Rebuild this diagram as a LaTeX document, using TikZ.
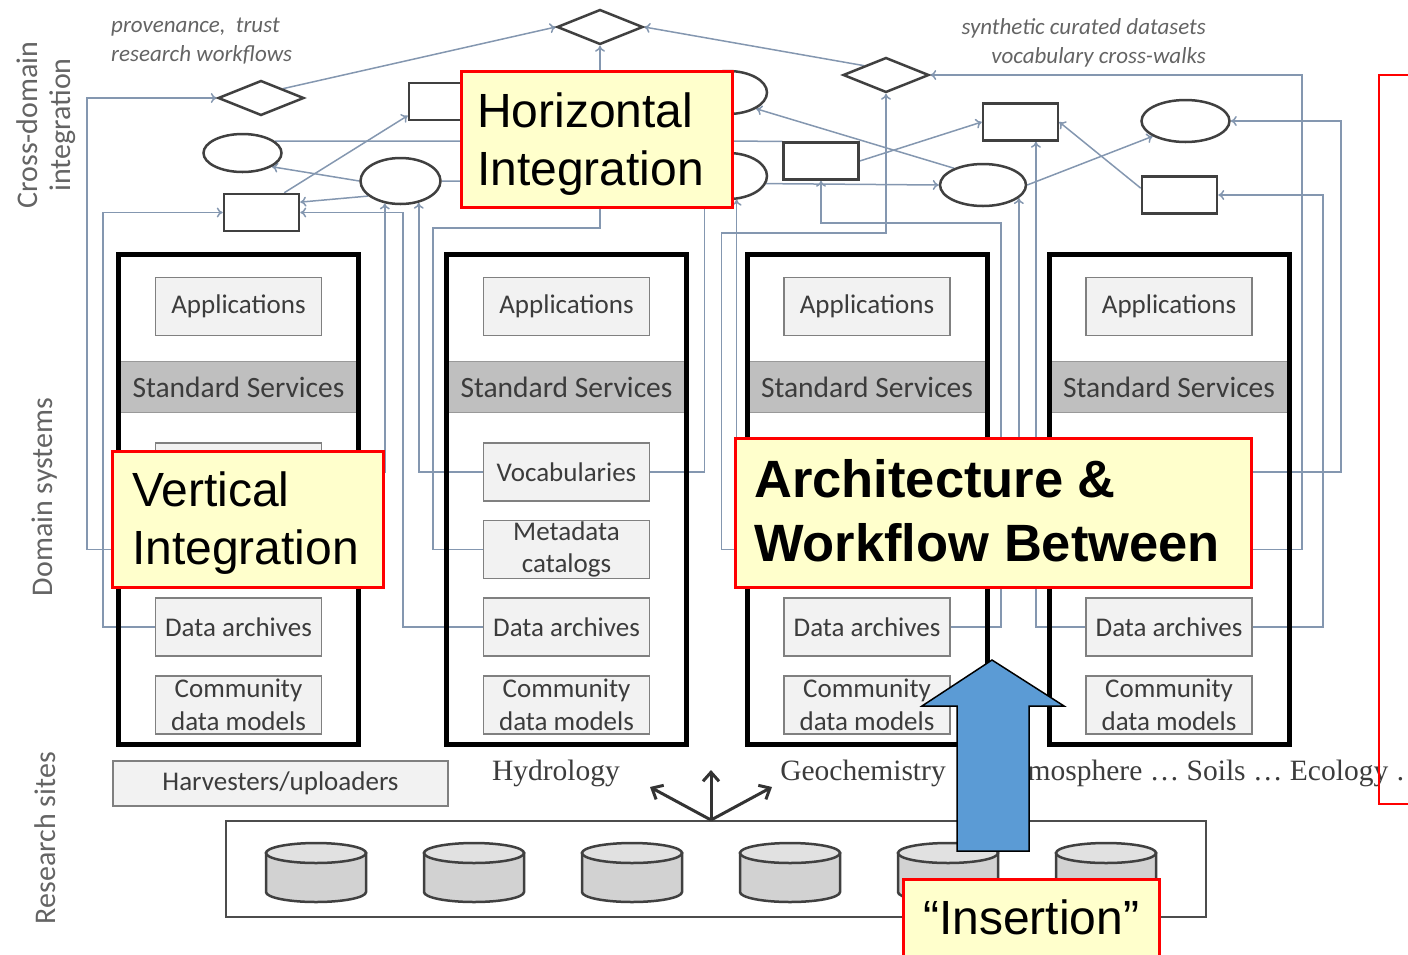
\documentclass[tikz,border=0pt]{standalone}
\usepackage{fontspec}
\setmainfont{Carlito}
\newfontfamily\arialfont{Liberation Sans}
\newfontfamily\timesfont{Liberation Serif}
\usepackage{xcolor}
\definecolor{ln}{RGB}{132,151,176}
\definecolor{outl}{RGB}{64,64,64}
\definecolor{txt}{RGB}{60,60,60}
\definecolor{lab}{RGB}{100,100,100}
\definecolor{boxg}{RGB}{242,242,242}
\definecolor{bandg}{RGB}{191,191,191}
\definecolor{cylg}{RGB}{210,210,210}
\definecolor{cylt}{RGB}{225,225,225}
\definecolor{notey}{RGB}{255,255,204}
\definecolor{blu}{RGB}{91,155,213}
\usetikzlibrary{shapes.geometric, arrows.meta, backgrounds}

\begin{document}
\begin{tikzpicture}[x=1pt, y=-1pt,
flow/.style={draw=ln, line width=1.5pt, -{To[length=6pt, width=10pt]}},
wire/.style={draw=ln, line width=1.5pt},
dom/.style={draw=black, line width=5pt, minimum width=240pt, minimum height=490pt},
band/.style={draw=gray!80, fill=bandg, line width=1pt, minimum width=240pt, minimum height=51pt, text=txt, font=\fontsize{29.5}{33}\selectfont},
part/.style={draw=gray, fill=boxg, line width=1.5pt, minimum width=166pt, minimum height=58pt, inner sep=0pt, align=center, text=txt, font=\fontsize{27}{32.5}\selectfont},
dia/.style={diamond, draw=outl, fill=white, line width=2.5pt, minimum width=86pt, minimum height=35pt, inner sep=0pt},
ell/.style={ellipse, draw=outl, fill=white, line width=2.5pt, inner sep=0pt},
rct/.style={draw=outl, fill=white, line width=2.5pt, minimum width=75pt, minimum height=37pt, inner sep=0pt},
side/.style={text=lab, rotate=90, align=center, font=\fontsize{30}{33}\selectfont},
ital/.style={text=lab, inner sep=0pt, font=\itshape\fontsize{23}{29}\selectfont},
serif/.style={text=txt, inner sep=0pt, font=\timesfont\fontsize{29.5}{34}\selectfont},
note/.style={draw=red, fill=notey, line width=2.5pt, anchor=north west, inner sep=0pt},
notetext/.style={anchor=north west, inner sep=0pt, align=left, font=\arialfont\fontsize{48}{58}\selectfont},
can/.style={draw=outl, fill=cylg, line width=2.5pt},
spray/.style={draw=gray!40!black, line width=3pt, -{Straight Barb[length=9pt, width=16pt]}}
]
\useasboundingbox (0,0) rectangle (1408,954);
\foreach \n/\cx in {1/238.5, 2/566.5, 3/867, 4/1169}{
\node[band] (std\n) at (\cx,387) {Standard Services};
\node[dom] (dom\n) at (\cx,499.5) {};
\node[part] (app\n) at (\cx,306.5) {Applications};
\node[part] (voc\n) at (\cx,472) {Vocabularies};
\node[part] (meta\n) at (\cx,549.5) {Metadata\\catalogs};
\node[part] (arch\n) at (\cx,627) {Data archives};
\node[part] (comm\n) at (\cx,705) {Community\\data models};
}
\foreach \nm/\px/\py in {dmT/600/27, dmL/261/98, dmR/886/75}
\node[dia] (\nm) at (\px,\py) {};
\foreach \nm/\px/\py in {rcL/261.5/212.5, rcM/446.5/101.5, rcC/821/161, rcR/1020.5/122, rcE/1179.5/195}
\node[rct] (\nm) at (\px,\py) {};
\foreach \nm/\px/\py/\w/\h in {elL/242.5/153/78/38, elC/400.5/181/80/46, elU/728/92.5/78/43, elD/728/176/78/46, elM/983/185/86/42, elR/1185.5/121/88/42}
\node[ell, minimum width=\w, minimum height=\h] (\nm) at (\px,\py) {};

\begin{scope}[on background layer]
\draw[flow] (meta1.west) -- ++(-68,0) |- (dmL.west);
\draw[flow] (arch1.west) -- ++(-52,0) |- (rcL.west);
\draw[flow] (voc1.east) -| (elC.235);
\draw[flow] (arch2.west) -- ++(-80,0) |- (rcL.east);
\draw[flow] (voc2.west) -| (elC.310);
\draw[flow] (meta2.west) -- ++(-50,0) |- (600,228) -- (dmT.south);
\draw[flow] (voc2.east) -| (elD.220);
\draw[flow] (meta3.west) -- ++(-62,0) |- (886,233) -- (dmR.south);
\draw[flow] (voc3.west) -| (elD.290);
\draw[flow] (elC.east) -- (elM.west);
\draw[flow] (arch3.east) -- ++(50,0) |- (821,223) -- (rcC.south);
\draw[flow] (voc3.east) -| (elM.340);
\draw[flow] (arch4.west) -| (rcR.308);
\draw[flow] (meta4.east) -- ++(49,0) |- (dmR.east);
\draw[flow] (voc4.east) -- ++(88,0) |- (elR.east);
\draw[flow] (arch4.east) -- ++(70,0) |- (rcE.east);
\draw[flow] (dmL.north east) -- (dmT.west);
\draw[flow] (dmR.north west) -- (dmT.east);
\draw[flow] (rcL.41) -- (rcM.200);
\draw[flow] (elC.205) -- (rcL.15);
\draw[flow] (elC.west) -- (elL.335);
\draw[wire] (elL.20) -- (rcC.north west);
\draw[flow] (rcC.east) -- (rcR.west);
\draw[flow] (elM.150) -- (elU.330);
\draw[flow] (elM.east) -- (elR.205);
\draw[flow] (rcE.170) -- (rcR.east);
\end{scope}

\node[side] (cdi) at (46,125) {Cross-domain\\integration};
\node[side] (dsy) at (45,497) {Domain systems};
\node[side] (rsi) at (45,838) {Research sites};
\node[ital, anchor=west, align=left] (prov) at (111,41) {provenance,~ trust\\research workflows};
\node[ital, anchor=east, align=right] (synt) at (1206,43) {synthetic curated datasets\\vocabulary cross-walks};

\node[part, minimum width=335pt, minimum height=45pt] (harv) at (280.5,783.5) {Harvesters/uploaders};
\node[serif] (hyd) at (556,773) {Hydrology};
\node[serif] (geo) at (863,773) {Geochemistry};
\node[serif, anchor=west] (atm) at (998,773) {Atmosphere … Soils … Ecology …};
\node[draw=gray!60!black, line width=2pt, minimum width=980pt, minimum height=96pt] (sites) at (716,869) {};
\foreach \cx in {316,474,632,790,948,1106}{
\draw[can] (\cx-50,853) -- (\cx-50,892) arc[start angle=180, end angle=0, x radius=50, y radius=10] -- (\cx+50,853) -- cycle;
\draw[can, fill=cylt] (\cx,853) ellipse[x radius=50, y radius=10];
}
\coordinate (upL) at (650,787);
\coordinate (upM) at (711,770);
\coordinate (upR) at (772,787);
\foreach \e in {upL,upM,upR}
\draw[spray] ([xshift=-5pt]sites.north) -- (\e);

\draw[black, line width=1.5pt, fill=blu] (957,851) -- (957,706) -- (922,706) -- (992,660) -- (1064,706) -- (1029,706) -- (1029,851) -- cycle;

\node[note, minimum width=271pt, minimum height=136pt] (hz) at (460,70) {};
\node[notetext] (hzt) at ([xshift=17pt, yshift=-23pt]hz.north west) {Horizontal\\Integration};
\node[note, minimum width=271pt, minimum height=136pt] (vt) at (111,450) {};
\node[notetext] (vtt) at ([xshift=21pt, yshift=-22pt]vt.north west) {Vertical\\Integration};
\node[note, minimum width=516pt, minimum height=149pt] (aw) at (734,437) {};
\node[notetext, font=\arialfont\bfseries\fontsize{52.5}{64}\selectfont] (awt) at ([xshift=20pt, yshift=-22pt]aw.north west) {Architecture \&\\Workflow Between};
\node[note, minimum width=256pt, minimum height=100pt] (ins) at (902,878) {};
\node[notetext, anchor=north] (inst) at ([yshift=-22pt]ins.north) {“Insertion”};
\node[draw=red, line width=2pt, anchor=north west, minimum width=60pt, minimum height=729pt] (rside) at (1378,74) {};
\end{tikzpicture}
\end{document}
